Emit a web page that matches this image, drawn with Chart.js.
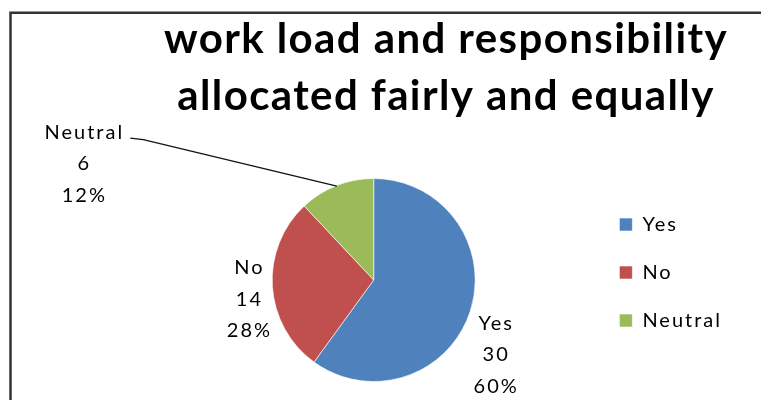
<!DOCTYPE html>
<html>
<head>
<meta charset="utf-8">
<script src="https://cdn.jsdelivr.net/npm/chart.js@4"></script>
<style>
  html, body { margin: 0; padding: 0; background: #fff; }
  #wrap { width: 761px; height: 400px; }
</style>
</head>
<body>
<div id="wrap"><canvas id="chart" width="761" height="400"></canvas></div>
<script>
const titleLines = ["work load and responsibility", "allocated fairly and equally"];
const categories = ["Yes", "No", "Neutral"];
const counts = [30, 14, 6];
const percents = ["60%", "28%", "12%"];
const sliceColors = ["#4F81BD", "#C0504D", "#9BBB59"];

// where each data label block sits, relative to the slice's outer edge at mid-angle
const labelShift = [[25, 43.5], [-24, 13], [-253, -22]];
const hasLeader = [false, false, true];

const labelFont = "20px Lato";
const spacing = "2px";

const framePlugin = {
  id: "excelLook",
  beforeLayout(chart) {
    chart.ctx.letterSpacing = spacing;
  },
  afterLayout(chart) {
    // excel puts the legend a little above the pie centre
    chart.legend.top -= 7.5;
    chart.legend.bottom -= 7.5;
  },
  beforeDraw(chart) {
    chart.ctx.letterSpacing = spacing;
  },
  afterDraw(chart) {
    const ctx = chart.ctx;
    ctx.save();

    // frame (left + top edges only, cropped picture)
    ctx.strokeStyle = "#333";
    ctx.lineWidth = 2.5;
    ctx.beginPath();
    ctx.moveTo(10.5, 400);
    ctx.lineTo(10.5, 12.8);
    ctx.lineTo(761, 12.8);
    ctx.stroke();

    // title
    ctx.letterSpacing = "1.4px";
    ctx.fillStyle = "#000";
    ctx.font = "bold 42px Lato";
    ctx.textAlign = "center";
    ctx.textBaseline = "alphabetic";
    titleLines.forEach((t, i) => ctx.fillText(t, 446, 53 + i * 57));

    // data labels
    const meta = chart.getDatasetMeta(0);
    ctx.letterSpacing = spacing;
    ctx.font = labelFont;
    ctx.textBaseline = "middle";
    meta.data.forEach((arc, i) => {
      const mid = (arc.startAngle + arc.endAngle) / 2;
      const ex = arc.x + Math.cos(mid) * arc.outerRadius;
      const ey = arc.y + Math.sin(mid) * arc.outerRadius;
      const cx = ex + labelShift[i][0];
      const cy = ey + labelShift[i][1];
      const lines = [categories[i], String(counts[i]), percents[i]];
      lines.forEach((s, j) => ctx.fillText(s, cx + 1, cy + (j - 1) * 31.5));
      if (hasLeader[i]) {
        ctx.strokeStyle = "#111";
        ctx.lineWidth = 1.3;
        ctx.beginPath();
        ctx.moveTo(cx + 47, cy - 25.5);
        ctx.lineTo(cx + 60, cy - 24);
        ctx.lineTo(ex + 0.5, ey + 0.5);
        ctx.stroke();
      }
    });
    ctx.restore();
  }
};

new Chart(document.getElementById("chart"), {
  type: "pie",
  data: {
    labels: categories,
    datasets: [{
      data: counts,
      backgroundColor: sliceColors,
      borderColor: "rgba(255,255,255,0.6)",
      borderWidth: 1
    }]
  },
  options: {
    responsive: false,
    animation: false,
    devicePixelRatio: 1,
    layout: { padding: { top: 178, bottom: 18, left: 156, right: 29 } },
    plugins: {
      title: { display: false },
      tooltip: { enabled: false },
      legend: {
        position: "right",
        align: "center",
        labels: {
          font: { family: "Lato", size: 20 },
          color: "#000",
          boxWidth: 13,
          boxHeight: 13,
          padding: 28
        }
      }
    }
  },
  plugins: [framePlugin]
});
</script>
</body>
</html>
